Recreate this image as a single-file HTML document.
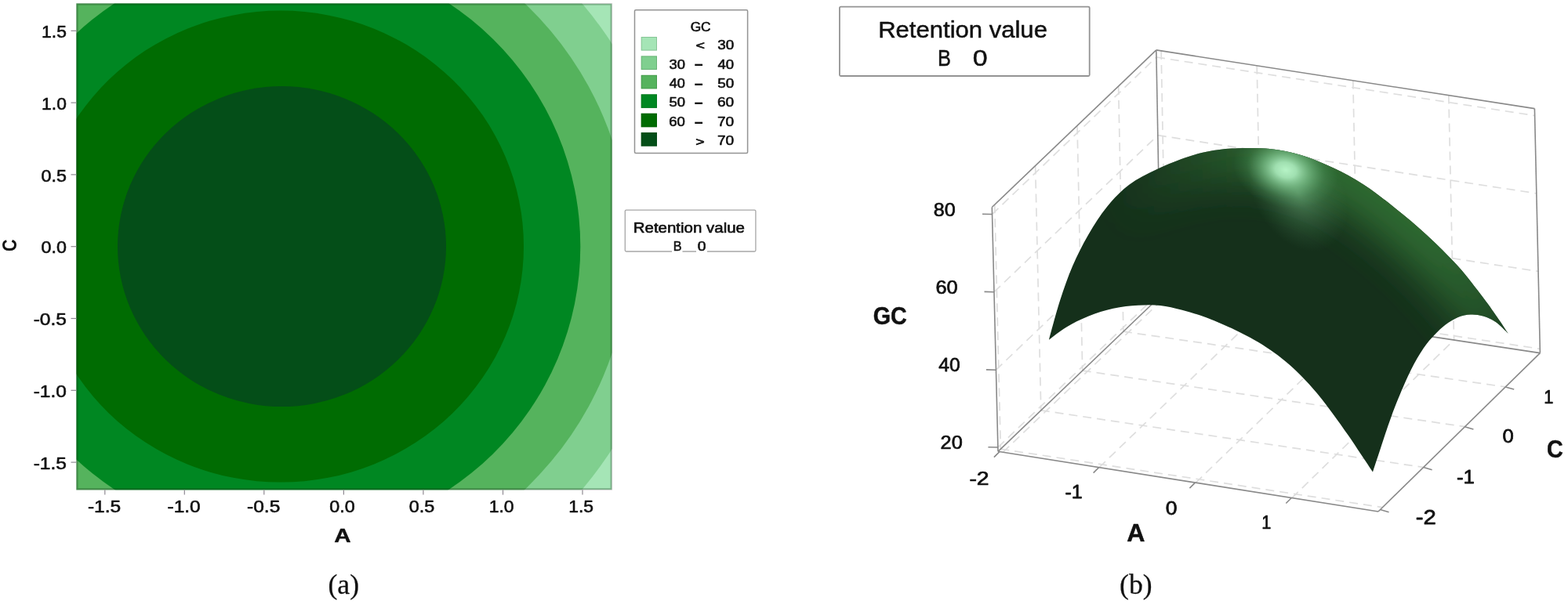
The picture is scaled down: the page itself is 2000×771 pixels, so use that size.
<!DOCTYPE html>
<html lang="en">
<head>
<meta charset="utf-8">
<title>Contour and surface plots of GC</title>
<style>
html,body{margin:0;padding:0;background:#fff}
body{width:2000px;height:771px;overflow:hidden}
svg{display:block;filter:blur(0.55px)}
text{white-space:pre}
.gd{stroke:#dedede;stroke-width:1.7;stroke-dasharray:11 7;fill:none}
.bx{stroke:#898989;stroke-width:1.6;fill:none}
.tk{stroke:#8f8a92;stroke-width:1.2;fill:none}
.lb{fill:#fff;stroke:#939393;stroke-width:1.5}
</style>
</head>
<body>
<svg width="2000" height="771" viewBox="0 0 2000 771">
<defs>
<path id="surf" d="M1338.0,433.7C1340.3,425.4 1347.0,399.4 1352.0,383.8C1357.0,368.2 1362.0,353.8 1368.0,339.8C1374.0,325.8 1380.7,312.5 1388.0,299.9C1395.3,287.2 1403.3,274.6 1412.0,263.9C1420.7,253.2 1429.4,243.9 1440.0,235.9C1450.6,227.9 1463.2,222.0 1475.8,216.0C1488.4,210.0 1503.8,204.0 1515.8,200.0C1527.8,196.0 1537.1,193.8 1547.8,192.0C1558.5,190.2 1567.7,189.5 1579.7,189.2C1591.7,188.9 1606.4,188.5 1619.7,190.0C1633.0,191.5 1646.2,194.0 1659.6,198.0C1673.0,202.0 1686.5,207.7 1699.9,214.0C1713.3,220.3 1726.5,227.3 1739.8,236.0C1753.1,244.7 1766.5,255.2 1779.8,265.9C1793.1,276.5 1806.5,287.6 1819.8,299.9C1833.1,312.2 1847.7,326.5 1859.7,339.8C1871.7,353.1 1883.0,368.5 1891.7,379.8C1900.4,391.1 1906.4,400.2 1911.7,407.8C1917.0,415.4 1921.7,422.7 1923.7,425.7L1923.7,425.7C1921.0,423.2 1913.0,414.7 1907.7,411.0C1902.4,407.3 1897.0,405.1 1891.7,403.5C1886.4,401.9 1881.0,401.2 1875.7,401.5C1870.4,401.8 1865.0,402.8 1859.7,405.0C1854.4,407.2 1848.7,410.8 1843.7,414.5C1838.7,418.2 1834.4,422.5 1829.7,427.5C1825.0,432.5 1820.7,437.1 1815.7,444.5C1810.7,451.9 1805.1,461.3 1799.8,471.9C1794.5,482.5 1788.5,496.6 1783.8,507.9C1779.1,519.2 1775.8,528.5 1771.8,539.8C1767.8,551.1 1763.3,565.3 1759.8,575.8C1756.3,586.2 1752.5,598.0 1751.0,602.5L1751.0,602.5C1748.5,598.7 1741.0,587.6 1735.8,579.8C1730.6,572.0 1725.8,564.4 1719.8,555.8C1713.8,547.1 1706.6,536.9 1699.9,527.9C1693.2,518.9 1686.6,509.9 1679.9,501.9C1673.2,493.9 1666.6,486.6 1659.9,479.9C1653.2,473.2 1646.6,467.1 1639.9,461.5C1633.2,455.9 1626.7,451.1 1620.0,446.5C1613.3,441.9 1607.5,438.2 1600.0,434.0C1592.5,429.8 1585.0,425.7 1575.0,421.0C1565.0,416.3 1551.0,410.0 1539.8,405.8C1528.6,401.6 1517.8,398.4 1507.8,395.8C1497.8,393.2 1489.1,391.0 1479.8,390.0C1470.5,389.0 1461.8,389.2 1451.8,389.8C1441.8,390.4 1430.6,391.5 1420.0,393.8C1409.4,396.1 1398.0,399.8 1388.0,403.8C1378.0,407.8 1368.3,412.7 1360.0,417.7C1351.7,422.7 1341.7,431.0 1338.0,433.7Z"/>
<clipPath id="sc"><use href="#surf"/></clipPath>
<filter id="b1" x="-20%" y="-40%" width="140%" height="180%"><feGaussianBlur stdDeviation="25"/></filter>
<linearGradient id="bg" gradientUnits="userSpaceOnUse" x1="1420" y1="0" x2="1940" y2="0">
<stop offset="0" stop-color="#2c6630" stop-opacity="0"/>
<stop offset="0.06" stop-color="#2c6630" stop-opacity="0.12"/>
<stop offset="0.22" stop-color="#2c6630" stop-opacity="0.55"/>
<stop offset="0.42" stop-color="#2e6a32" stop-opacity="1"/>
<stop offset="0.8" stop-color="#2e6a32" stop-opacity="1"/>
<stop offset="0.93" stop-color="#2e6a32" stop-opacity="0.6"/>
<stop offset="1" stop-color="#2e6a32" stop-opacity="0.2"/>
</linearGradient>
<radialGradient id="hl2" cx="0.5" cy="0.5" r="0.5">
<stop offset="0" stop-color="#86c896" stop-opacity="0.5"/>
<stop offset="0.5" stop-color="#6aae7a" stop-opacity="0.24"/>
<stop offset="1" stop-color="#4f9060" stop-opacity="0"/>
</radialGradient>
<radialGradient id="hl" cx="0.5" cy="0.5" r="0.5">
<stop offset="0" stop-color="#b6f3c6" stop-opacity="1"/>
<stop offset="0.2" stop-color="#a9e9ba" stop-opacity="0.92"/>
<stop offset="0.45" stop-color="#84cc94" stop-opacity="0.6"/>
<stop offset="0.75" stop-color="#5ea86e" stop-opacity="0.2"/>
<stop offset="1" stop-color="#4f9a60" stop-opacity="0"/>
</radialGradient>
</defs>
<clipPath id="pc"><rect x="97.5" y="4.5" width="683.1" height="620.8"/></clipPath>
<g clip-path="url(#pc)">
<rect x="97.5" y="4.5" width="683.1" height="620.8" fill="#a5e5b6"/>
<ellipse cx="359.4" cy="314.6" rx="497.6" ry="486.0" fill="#80cf8f"/>
<ellipse cx="359.4" cy="314.6" rx="443.8" ry="433.5" fill="#55b35d"/>
<ellipse cx="359.3" cy="314.6" rx="381.0" ry="374.5" fill="#008722"/>
<ellipse cx="358.0" cy="314.6" rx="310.0" ry="301.0" fill="#006c02"/>
<ellipse cx="359.5" cy="314.6" rx="209.5" ry="204.5" fill="#044e18"/>
<rect x="98.5" y="5.5" width="681.1" height="618.8" fill="none" stroke="#0a2a10" stroke-opacity="0.28" stroke-width="2.2"/>
</g>
<rect x="97.5" y="4.5" width="683.1" height="620.8" fill="none" stroke="#8a8088" stroke-opacity="0.3" stroke-width="1"/>
<line x1="133.8" y1="625.3" x2="133.8" y2="631.5999999999999" class="tk"/>
<text transform="translate(111.95,654.08) scale(1.1192,1)" style="font-family:'Liberation Sans',sans-serif;font-size:21.94px;fill:#111;stroke:#111;stroke-width:0.6px;stroke-linejoin:round">-1.5</text>
<line x1="90.5" y1="590.1" x2="97.5" y2="590.1" class="tk"/>
<text transform="translate(42.70,598.77) scale(1.0702,1)" style="font-family:'Liberation Sans',sans-serif;font-size:22.94px;fill:#111;stroke:#111;stroke-width:0.6px;stroke-linejoin:round">-1.5</text>
<line x1="235.3" y1="625.3" x2="235.3" y2="631.5999999999999" class="tk"/>
<text transform="translate(213.50,654.08) scale(1.1335,1)" style="font-family:'Liberation Sans',sans-serif;font-size:21.63px;fill:#111;stroke:#111;stroke-width:0.6px;stroke-linejoin:round">-1.0</text>
<line x1="90.5" y1="498.3" x2="97.5" y2="498.3" class="tk"/>
<text transform="translate(42.70,506.97) scale(1.0839,1)" style="font-family:'Liberation Sans',sans-serif;font-size:22.61px;fill:#111;stroke:#111;stroke-width:0.6px;stroke-linejoin:round">-1.0</text>
<line x1="336.8" y1="625.3" x2="336.8" y2="631.5999999999999" class="tk"/>
<text transform="translate(315.05,654.08) scale(1.1352,1)" style="font-family:'Liberation Sans',sans-serif;font-size:21.63px;fill:#111;stroke:#111;stroke-width:0.6px;stroke-linejoin:round">-0.5</text>
<line x1="90.5" y1="406.5" x2="97.5" y2="406.5" class="tk"/>
<text transform="translate(42.70,415.17) scale(1.0856,1)" style="font-family:'Liberation Sans',sans-serif;font-size:22.61px;fill:#111;stroke:#111;stroke-width:0.6px;stroke-linejoin:round">-0.5</text>
<line x1="438.4" y1="625.3" x2="438.4" y2="631.5999999999999" class="tk"/>
<text transform="translate(420.27,654.08) scale(1.0781,1)" style="font-family:'Liberation Sans',sans-serif;font-size:21.63px;fill:#111;stroke:#111;stroke-width:0.6px;stroke-linejoin:round">0.0</text>
<line x1="90.5" y1="314.7" x2="97.5" y2="314.7" class="tk"/>
<text transform="translate(52.47,323.37) scale(1.0309,1)" style="font-family:'Liberation Sans',sans-serif;font-size:22.61px;fill:#111;stroke:#111;stroke-width:0.6px;stroke-linejoin:round">0.0</text>
<line x1="539.9" y1="625.3" x2="539.9" y2="631.5999999999999" class="tk"/>
<text transform="translate(521.82,654.08) scale(1.0802,1)" style="font-family:'Liberation Sans',sans-serif;font-size:21.63px;fill:#111;stroke:#111;stroke-width:0.6px;stroke-linejoin:round">0.5</text>
<line x1="90.5" y1="222.9" x2="97.5" y2="222.9" class="tk"/>
<text transform="translate(52.47,231.57) scale(1.0329,1)" style="font-family:'Liberation Sans',sans-serif;font-size:22.61px;fill:#111;stroke:#111;stroke-width:0.6px;stroke-linejoin:round">0.5</text>
<line x1="641.5" y1="625.3" x2="641.5" y2="631.5999999999999" class="tk"/>
<text transform="translate(623.69,654.08) scale(1.0570,1)" style="font-family:'Liberation Sans',sans-serif;font-size:21.63px;fill:#111;stroke:#111;stroke-width:0.6px;stroke-linejoin:round">1.0</text>
<line x1="90.5" y1="131.1" x2="97.5" y2="131.1" class="tk"/>
<text transform="translate(53.09,139.77) scale(1.0107,1)" style="font-family:'Liberation Sans',sans-serif;font-size:22.61px;fill:#111;stroke:#111;stroke-width:0.6px;stroke-linejoin:round">1.0</text>
<line x1="743.0" y1="625.3" x2="743.0" y2="631.5999999999999" class="tk"/>
<text transform="translate(725.23,654.08) scale(1.0441,1)" style="font-family:'Liberation Sans',sans-serif;font-size:21.94px;fill:#111;stroke:#111;stroke-width:0.6px;stroke-linejoin:round">1.5</text>
<line x1="90.5" y1="39.3" x2="97.5" y2="39.3" class="tk"/>
<text transform="translate(53.08,47.97) scale(0.9984,1)" style="font-family:'Liberation Sans',sans-serif;font-size:22.94px;fill:#111;stroke:#111;stroke-width:0.6px;stroke-linejoin:round">1.5</text>
<text transform="translate(426.36,692.00) scale(1.2465,1)" style="font-family:'Liberation Sans',sans-serif;font-size:23.71px;fill:#111;font-weight:bold;stroke:#111;stroke-width:0.4px;stroke-linejoin:round">A</text>
<text transform="translate(21.04,320.96) rotate(-90) scale(0.8322,1)" style="font-family:'Liberation Sans',sans-serif;font-size:25.87px;font-weight:bold;fill:#111">C</text>
<text transform="translate(418.42,758.35) scale(0.9966,1)" style="font-family:'Liberation Serif',serif;font-size:35.87px;fill:#111;stroke:#111;stroke-width:0.25px;stroke-linejoin:round">(a)</text>
<rect x="809.5" y="12.8" width="144.1" height="182.8" rx="1.5" class="lb"/>
<text transform="translate(880.63,39.54) scale(1.0740,1)" style="font-family:'Liberation Sans',sans-serif;font-size:16.11px;fill:#111;stroke:#111;stroke-width:0.6px;stroke-linejoin:round">GC</text>
<rect x="817.7" y="47.0" width="20.3" height="17.6" fill="#a5e5b6"/>
<rect x="818.2" y="47.5" width="19.3" height="16.6" fill="none" stroke="#003808" stroke-opacity="0.18" stroke-width="1"/>
<text transform="translate(887.41,63.45) scale(1.2879,1)" style="font-family:'Liberation Sans',sans-serif;font-size:15.37px;fill:#111;stroke:#111;stroke-width:0.6px;stroke-linejoin:round">&lt;</text>
<text transform="translate(915.19,63.13) scale(1.0837,1)" style="font-family:'Liberation Sans',sans-serif;font-size:17.39px;fill:#111;stroke:#111;stroke-width:0.6px;stroke-linejoin:round">30</text>
<rect x="817.7" y="71.4" width="20.3" height="17.6" fill="#80cf8f"/>
<rect x="818.2" y="71.9" width="19.3" height="16.6" fill="none" stroke="#003808" stroke-opacity="0.18" stroke-width="1"/>
<text transform="translate(853.51,87.55) scale(1.0559,1)" style="font-family:'Liberation Sans',sans-serif;font-size:17.39px;fill:#111;stroke:#111;stroke-width:0.6px;stroke-linejoin:round">30</text>
<text transform="translate(886.30,92.24) scale(0.4966,1)" style="font-family:'Liberation Sans',sans-serif;font-size:35.56px;fill:#111">–</text>
<text transform="translate(915.48,87.55) scale(1.0682,1)" style="font-family:'Liberation Sans',sans-serif;font-size:17.39px;fill:#111;stroke:#111;stroke-width:0.6px;stroke-linejoin:round">40</text>
<rect x="817.7" y="95.8" width="20.3" height="17.6" fill="#55b35d"/>
<rect x="818.2" y="96.3" width="19.3" height="16.6" fill="none" stroke="#003808" stroke-opacity="0.18" stroke-width="1"/>
<text transform="translate(853.79,111.97) scale(1.0408,1)" style="font-family:'Liberation Sans',sans-serif;font-size:17.39px;fill:#111;stroke:#111;stroke-width:0.6px;stroke-linejoin:round">40</text>
<text transform="translate(886.30,116.66) scale(0.4966,1)" style="font-family:'Liberation Sans',sans-serif;font-size:35.56px;fill:#111">–</text>
<text transform="translate(915.14,111.97) scale(1.0863,1)" style="font-family:'Liberation Sans',sans-serif;font-size:17.39px;fill:#111;stroke:#111;stroke-width:0.6px;stroke-linejoin:round">50</text>
<rect x="817.7" y="120.3" width="20.3" height="17.6" fill="#008722"/>
<rect x="818.2" y="120.8" width="19.3" height="16.6" fill="none" stroke="#003808" stroke-opacity="0.18" stroke-width="1"/>
<text transform="translate(853.46,136.39) scale(1.0585,1)" style="font-family:'Liberation Sans',sans-serif;font-size:17.39px;fill:#111;stroke:#111;stroke-width:0.6px;stroke-linejoin:round">50</text>
<text transform="translate(886.30,141.08) scale(0.4966,1)" style="font-family:'Liberation Sans',sans-serif;font-size:35.56px;fill:#111">–</text>
<text transform="translate(914.95,136.39) scale(1.0970,1)" style="font-family:'Liberation Sans',sans-serif;font-size:17.39px;fill:#111;stroke:#111;stroke-width:0.6px;stroke-linejoin:round">60</text>
<rect x="817.7" y="144.7" width="20.3" height="17.6" fill="#006c02"/>
<rect x="818.2" y="145.2" width="19.3" height="16.6" fill="none" stroke="#003808" stroke-opacity="0.18" stroke-width="1"/>
<text transform="translate(853.27,160.81) scale(1.0688,1)" style="font-family:'Liberation Sans',sans-serif;font-size:17.39px;fill:#111;stroke:#111;stroke-width:0.6px;stroke-linejoin:round">60</text>
<text transform="translate(886.30,165.50) scale(0.4966,1)" style="font-family:'Liberation Sans',sans-serif;font-size:35.56px;fill:#111">–</text>
<text transform="translate(914.90,160.81) scale(1.0997,1)" style="font-family:'Liberation Sans',sans-serif;font-size:17.39px;fill:#111;stroke:#111;stroke-width:0.6px;stroke-linejoin:round">70</text>
<rect x="817.7" y="169.1" width="20.3" height="17.6" fill="#044e18"/>
<rect x="818.2" y="169.6" width="19.3" height="16.6" fill="none" stroke="#003808" stroke-opacity="0.18" stroke-width="1"/>
<text transform="translate(887.22,185.55) scale(1.2745,1)" style="font-family:'Liberation Sans',sans-serif;font-size:15.37px;fill:#111;stroke:#111;stroke-width:0.6px;stroke-linejoin:round">&gt;</text>
<text transform="translate(914.90,185.23) scale(1.0997,1)" style="font-family:'Liberation Sans',sans-serif;font-size:17.39px;fill:#111;stroke:#111;stroke-width:0.6px;stroke-linejoin:round">70</text>
<rect x="797.3" y="268.1" width="166.6" height="52.9" rx="1.5" class="lb" style="stroke:#a6a6a6;stroke-width:1.3"/>
<rect x="857" y="306" width="13.5" height="17" fill="#fff"/>
<rect x="888" y="306" width="14" height="17" fill="#fff"/>
<text transform="translate(807.71,296.92) scale(1.1675,1)" style="font-family:'Liberation Sans',sans-serif;font-size:17.55px;fill:#111;stroke:#111;stroke-width:0.6px;stroke-linejoin:round">Retention value</text>
<text transform="translate(858.67,320.10) scale(0.9490,1)" style="font-family:'Liberation Sans',sans-serif;font-size:17.02px;fill:#111;stroke:#111;stroke-width:0.6px;stroke-linejoin:round">B</text>
<text transform="translate(889.63,320.03) scale(1.1455,1)" style="font-family:'Liberation Sans',sans-serif;font-size:16.82px;fill:#111;stroke:#111;stroke-width:0.6px;stroke-linejoin:round">0</text>
<rect x="1070.9" y="8.6" width="318.8" height="88.4" rx="1.5" class="lb" style="stroke-width:1.8"/>
<text transform="translate(1120.19,48.36) scale(1.0768,1)" style="font-family:'Liberation Sans',sans-serif;font-size:28.84px;fill:#111;stroke:#111;stroke-width:0.5px;stroke-linejoin:round">Retention value</text>
<text transform="translate(1196.06,84.35) scale(0.8340,1)" style="font-family:'Liberation Sans',sans-serif;font-size:30.40px;fill:#111;stroke:#111;stroke-width:0.5px;stroke-linejoin:round">B</text>
<text transform="translate(1240.69,84.25) scale(1.1269,1)" style="font-family:'Liberation Sans',sans-serif;font-size:30.11px;fill:#111;stroke:#111;stroke-width:0.5px;stroke-linejoin:round">0</text>
<line x1="1279.3" y1="577.3" x2="1486.9" y2="378.5" class="gd"/>
<line x1="1402.0" y1="596.7" x2="1609.3" y2="396.9" class="gd"/>
<line x1="1525.2" y1="616.2" x2="1732.2" y2="415.5" class="gd"/>
<line x1="1647.9" y1="635.6" x2="1854.6" y2="434.0" class="gd"/>
<line x1="1276.3" y1="573.1" x2="1763.4" y2="647.7" class="gd"/>
<line x1="1327.8" y1="523.8" x2="1815.6" y2="596.5" class="gd"/>
<line x1="1380.7" y1="473.1" x2="1868.4" y2="544.7" class="gd"/>
<line x1="1432.9" y1="423.2" x2="1920.2" y2="493.9" class="gd"/>
<line x1="1268.7" y1="261.3" x2="1276.3" y2="573.1" class="gd"/>
<line x1="1320.6" y1="211.5" x2="1327.8" y2="523.8" class="gd"/>
<line x1="1374.0" y1="160.4" x2="1380.7" y2="473.1" class="gd"/>
<line x1="1426.6" y1="110.0" x2="1432.9" y2="423.2" class="gd"/>
<line x1="1265.5" y1="273.5" x2="1475.0" y2="73.0" class="gd"/>
<line x1="1268.0" y1="372.7" x2="1476.8" y2="172.7" class="gd"/>
<line x1="1270.4" y1="472.2" x2="1478.7" y2="272.8" class="gd"/>
<line x1="1272.9" y1="571.0" x2="1480.5" y2="372.2" class="gd"/>
<line x1="1481.1" y1="64.9" x2="1486.9" y2="378.5" class="gd"/>
<line x1="1603.2" y1="83.8" x2="1609.3" y2="396.9" class="gd"/>
<line x1="1725.8" y1="102.7" x2="1732.2" y2="415.5" class="gd"/>
<line x1="1847.8" y1="121.6" x2="1854.6" y2="434.0" class="gd"/>
<line x1="1475.0" y1="73.0" x2="1957.6" y2="147.6" class="gd"/>
<line x1="1476.8" y1="172.7" x2="1959.8" y2="246.9" class="gd"/>
<line x1="1478.7" y1="272.8" x2="1962.1" y2="346.4" class="gd"/>
<line x1="1480.5" y1="372.2" x2="1964.3" y2="445.3" class="gd"/>
<line x1="1265.3" y1="264.5" x2="1273.0" y2="576.3" class="bx"/>
<line x1="1265.3" y1="264.5" x2="1474.8" y2="63.9" class="bx"/>
<line x1="1474.8" y1="63.9" x2="1957.4" y2="138.6" class="bx"/>
<line x1="1957.4" y1="138.6" x2="1964.4" y2="450.6" class="bx"/>
<line x1="1273.0" y1="576.3" x2="1758.0" y2="653.0" class="bx"/>
<line x1="1758.0" y1="653.0" x2="1964.4" y2="450.6" class="bx"/>
<line x1="1273.0" y1="576.3" x2="1480.6" y2="377.5" class="bx"/>
<line x1="1480.6" y1="377.5" x2="1964.4" y2="450.6" class="bx"/>
<line x1="1474.8" y1="63.9" x2="1480.6" y2="377.5" class="bx"/>
<line x1="1253.0" y1="273.2" x2="1265.5" y2="273.5" class="bx"/>
<text transform="translate(1190.71,276.48) scale(1.0175,1)" style="font-family:'Liberation Sans',sans-serif;font-size:24.66px;fill:#111;stroke:#111;stroke-width:0.75px;stroke-linejoin:round">80</text>
<line x1="1255.5" y1="372.4" x2="1268.0" y2="372.7" class="bx"/>
<text transform="translate(1193.54,375.18) scale(1.0250,1)" style="font-family:'Liberation Sans',sans-serif;font-size:24.66px;fill:#111;stroke:#111;stroke-width:0.75px;stroke-linejoin:round">60</text>
<line x1="1257.9" y1="471.9" x2="1270.4" y2="472.2" class="bx"/>
<text transform="translate(1197.28,473.88) scale(0.9982,1)" style="font-family:'Liberation Sans',sans-serif;font-size:24.66px;fill:#111;stroke:#111;stroke-width:0.75px;stroke-linejoin:round">40</text>
<line x1="1260.4" y1="570.7" x2="1272.9" y2="571.0" class="bx"/>
<text transform="translate(1199.60,572.58) scale(1.0250,1)" style="font-family:'Liberation Sans',sans-serif;font-size:24.66px;fill:#111;stroke:#111;stroke-width:0.75px;stroke-linejoin:round">20</text>
<line x1="1274.9" y1="576.6" x2="1267.9" y2="583.6" class="bx"/>
<text transform="translate(1236.40,619.22) scale(1.1454,1)" style="font-family:'Liberation Sans',sans-serif;font-size:24.73px;fill:#111;stroke:#111;stroke-width:0.75px;stroke-linejoin:round">-2</text>
<line x1="1401.6" y1="596.6" x2="1394.6" y2="603.6" class="bx"/>
<text transform="translate(1358.55,636.22) scale(1.0435,1)" style="font-family:'Liberation Sans',sans-serif;font-size:23.93px;fill:#111;stroke:#111;stroke-width:0.75px;stroke-linejoin:round">-1</text>
<line x1="1524.4" y1="616.1" x2="1517.4" y2="623.1" class="bx"/>
<text transform="translate(1486.72,656.78) scale(1.0866,1)" style="font-family:'Liberation Sans',sans-serif;font-size:24.38px;fill:#111;stroke:#111;stroke-width:0.75px;stroke-linejoin:round">0</text>
<line x1="1647.3" y1="635.5" x2="1640.3" y2="642.5" class="bx"/>
<text transform="translate(1609.24,674.52) scale(0.9000,1)" style="font-family:'Liberation Sans',sans-serif;font-size:24.07px;fill:#111;stroke:#111;stroke-width:0.75px;stroke-linejoin:round">1</text>
<line x1="1760.5" y1="650.6" x2="1771.5" y2="653.8" class="bx"/>
<text transform="translate(1805.85,668.52) scale(1.1528,1)" style="font-family:'Liberation Sans',sans-serif;font-size:25.45px;fill:#111;stroke:#111;stroke-width:0.75px;stroke-linejoin:round">-2</text>
<line x1="1815.6" y1="596.5" x2="1826.6" y2="599.7" class="bx"/>
<text transform="translate(1858.02,616.72) scale(1.0621,1)" style="font-family:'Liberation Sans',sans-serif;font-size:24.22px;fill:#111;stroke:#111;stroke-width:0.75px;stroke-linejoin:round">-1</text>
<line x1="1868.4" y1="544.7" x2="1879.4" y2="547.9" class="bx"/>
<text transform="translate(1916.45,565.48) scale(1.0522,1)" style="font-family:'Liberation Sans',sans-serif;font-size:24.38px;fill:#111;stroke:#111;stroke-width:0.75px;stroke-linejoin:round">0</text>
<line x1="1920.2" y1="493.9" x2="1931.2" y2="497.1" class="bx"/>
<text transform="translate(1969.20,515.32) scale(0.9000,1)" style="font-family:'Liberation Sans',sans-serif;font-size:24.22px;fill:#111;stroke:#111;stroke-width:0.75px;stroke-linejoin:round">1</text>
<text transform="translate(1113.80,414.13) scale(0.9022,1)" style="font-family:'Liberation Sans',sans-serif;font-size:31.80px;fill:#111;font-weight:bold;stroke:#111;stroke-width:0.5px;stroke-linejoin:round">GC</text>
<text transform="translate(1437.35,690.55) scale(0.9983,1)" style="font-family:'Liberation Sans',sans-serif;font-size:32.15px;fill:#111;font-weight:bold;stroke:#111;stroke-width:0.5px;stroke-linejoin:round">A</text>
<text transform="translate(1973.00,583.93) scale(0.8946,1)" style="font-family:'Liberation Sans',sans-serif;font-size:32.08px;fill:#111;font-weight:bold;stroke:#111;stroke-width:0.5px;stroke-linejoin:round">C</text>
<text transform="translate(1428.02,758.31) scale(0.9888,1)" style="font-family:'Liberation Serif',serif;font-size:36.09px;fill:#111;stroke:#111;stroke-width:0.25px;stroke-linejoin:round">(b)</text>
<g clip-path="url(#sc)">
<rect x="1330" y="180" width="610" height="430" fill="#15301b"/>
<path d="M1412.0,263.9C1416.7,259.2 1429.4,243.9 1440.0,235.9C1450.6,227.9 1463.2,222.0 1475.8,216.0C1488.4,210.0 1503.8,204.0 1515.8,200.0C1527.8,196.0 1537.1,193.8 1547.8,192.0C1558.5,190.2 1567.7,189.5 1579.7,189.2C1591.7,188.9 1606.4,188.5 1619.7,190.0C1633.0,191.5 1646.2,194.0 1659.6,198.0C1673.0,202.0 1686.5,207.7 1699.9,214.0C1713.3,220.3 1726.5,227.3 1739.8,236.0C1753.1,244.7 1766.5,255.2 1779.8,265.9C1793.1,276.5 1806.5,287.6 1819.8,299.9C1833.1,312.2 1847.7,326.5 1859.7,339.8C1871.7,353.1 1883.0,368.5 1891.7,379.8C1900.4,391.1 1906.4,400.2 1911.7,407.8C1917.0,415.4 1921.7,422.7 1923.7,425.7" fill="none" stroke="url(#bg)" stroke-width="84" stroke-linecap="butt" filter="url(#b1)"/>
<ellipse cx="1656" cy="246" rx="56" ry="80" transform="rotate(-30 1656 246)" fill="url(#hl2)"/>
<ellipse cx="1640" cy="217" rx="68" ry="48" transform="rotate(14 1640 217)" fill="url(#hl)"/>
</g>
</svg>
</body>
</html>
